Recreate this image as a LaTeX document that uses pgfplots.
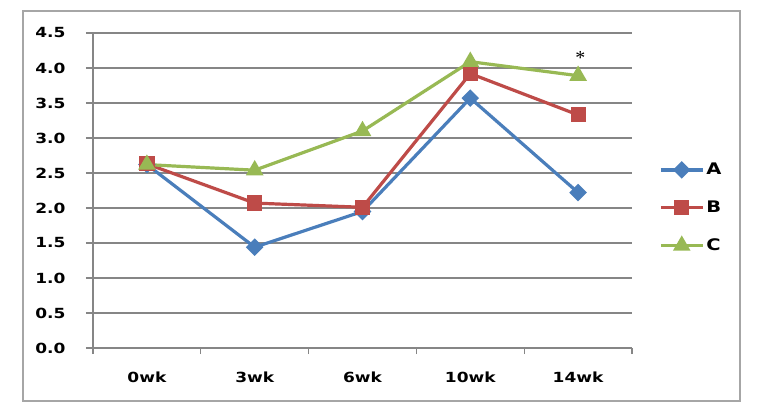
\documentclass[border=0pt]{standalone}
\usepackage{pgfplots}
\pgfplotsset{compat=1.18}
\usepackage{fontspec}
\setmainfont{DejaVu Sans}[FakeStretch=1.22]
\newfontfamily\starfont{Liberation Serif}
\definecolor{cA}{HTML}{4A7EBB}
\definecolor{cB}{HTML}{BE4B48}
\definecolor{cC}{HTML}{98B954}
\definecolor{gridc}{HTML}{868686}
\definecolor{borderc}{HTML}{A6A6A6}
\begin{document}
\begin{tikzpicture}
\path[use as bounding box] (0bp,0bp) rectangle (771bp,412bp);
\fill[white] (0bp,0bp) rectangle (771bp,412bp);
\draw[borderc, line width=1.3bp] (23bp,11bp) rectangle (740bp,401bp);
\begin{axis}[
  at={(93bp,64bp)}, anchor=south west,
  scale only axis, width=539bp, height=315bp,
  xmin=-0.5, xmax=4.5, ymin=0, ymax=4.5,
  axis x line*=bottom, axis y line*=left,
  axis line style={-, gridc, line width=1.1bp},
  xtick={0,1,2,3,4},
  xticklabels={0wk,3wk,6wk,10wk,14wk},
  major x tick style={draw=none},
  minor xtick={-0.5,0.5,1.5,2.5,3.5,4.5},
  ytick={0,0.5,...,4.5},
  ymajorgrids,
  grid style={gridc, line width=1.1bp},
  tick align=outside,
  major tick style={gridc, line width=1.1bp},
  minor tick style={gridc, line width=1.1bp},
  minor tick length=6bp,
  major tick length=7bp,
  yticklabel={\pgfmathprintnumber[fixed, fixed zerofill, precision=1, assume math mode=true]{\tick}},
  yticklabel style={font=\fontsize{14}{16}\selectfont\bfseries, anchor=east, xshift=-17bp},
  xticklabel style={font=\fontsize{14}{16}\selectfont\bfseries, anchor=center, yshift=-22bp},
  clip=false,
  legend style={at={(1.05,0.445)}, anchor=west, draw=none, fill=none,
    font=\fontsize{16}{19}\selectfont\bfseries,
    inner sep=0pt, row sep=24.5bp, nodes={inner sep=0pt}},
  legend cell align=left,
  legend image code/.code={\draw[mark repeat=2,mark phase=2] plot coordinates {(0bp,0bp)(21bp,0bp)(42bp,0bp)};\path (44bp,0bp);},
]
\addplot[cA, line width=3.2bp, mark=square*, mark size=4.6bp, mark options={rotate=45, solid}] coordinates {(0,2.62)(1,1.44)(2,1.95)(3,3.57)(4,2.22)};
\addlegendentry{A}
\addplot[cB, line width=3.2bp, mark=square*, mark size=6bp, mark options={solid}] coordinates {(0,2.63)(1,2.07)(2,2.01)(3,3.92)(4,3.33)};
\addlegendentry{B}
\addplot[cC, line width=3.2bp, mark=triangle*, mark size=7bp, mark options={solid}] coordinates {(0,2.62)(1,2.54)(2,3.10)(3,4.09)(4,3.89)};
\addlegendentry{C}
\node[font=\starfont\fontsize{20}{20}\selectfont, inner sep=0pt] at (axis cs:4.02,4.15) {*};
\end{axis}
\end{tikzpicture}
\end{document}
